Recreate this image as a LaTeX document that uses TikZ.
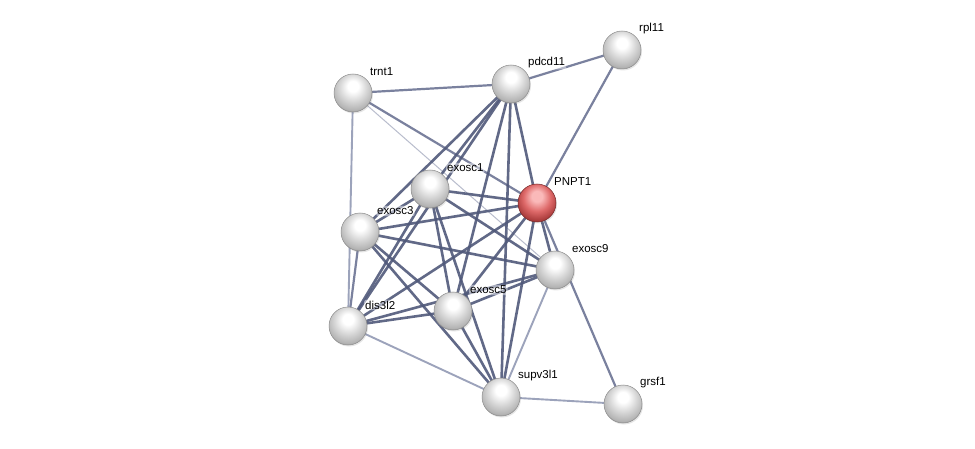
\documentclass[tikz,border=0pt]{standalone}
\usepackage{fontspec}
\setmainfont{Liberation Sans}
\usetikzlibrary{shadows}
\definecolor{edark}{RGB}{80,89,122}
\definecolor{emed}{RGB}{108,116,148}
\definecolor{elight}{RGB}{146,153,180}
\definecolor{evlight}{RGB}{185,189,205}
\definecolor{rhi}{RGB}{250,185,185}
\definecolor{rmid}{RGB}{222,105,105}
\definecolor{redge}{RGB}{170,60,60}
\pgfdeclareradialshading{grayball}{\pgfpoint{0bp}{10bp}}{color(0bp)=(white); color(7bp)=(white); color(18bp)=(black!16); color(28bp)=(black!30); color(34bp)=(black!50); color(60bp)=(black!50)}
\pgfdeclareradialshading{redball}{\pgfpoint{0bp}{10bp}}{color(0bp)=(rhi); color(7bp)=(rhi); color(18bp)=(rmid); color(28bp)=(redge); color(34bp)=(redge!80!black); color(60bp)=(redge!80!black)}
\pgfdeclarelayer{bg}
\pgfsetlayers{bg,main}
\tikzset{
  prot/.style={circle, minimum size=38pt, inner sep=0pt, shading=grayball, draw=black!45, line width=0.5pt,
     drop shadow={shadow xshift=1pt, shadow yshift=-1.5pt, opacity=0.2}},
  protred/.style={prot, shading=redball, draw=redge!70!black},
  lbl/.style={anchor=west, font=\fontsize{11.5}{13}\selectfont, inner sep=1pt, fill=white, fill opacity=0.45, text opacity=1, rounded corners=2pt},
  e1/.style={draw=edark, line width=2.6pt, opacity=0.9},
  e2/.style={draw=emed, line width=2.2pt, opacity=0.9},
  e3/.style={draw=elight, line width=1.9pt, opacity=0.9},
  e4/.style={draw=evlight, line width=1pt},
}
\begin{document}
\begin{tikzpicture}[x=1pt,y=-1pt]
\useasboundingbox (0,0) rectangle (975,449);
% nodes
\node[prot] (rpl11) at (622,50) {};
\node[prot] (pdcd11) at (511,84) {};
\node[prot] (trnt1) at (353,93) {};
\node[prot] (exosc1) at (430,189) {};
\node[protred] (pnpt1) at (537,203) {};
\node[prot] (exosc3) at (360,232) {};
\node[prot] (exosc9) at (555,270) {};
\node[prot] (exosc5) at (453,311) {};
\node[prot] (dis3l2) at (348,326) {};
\node[prot] (supv3l1) at (501,397) {};
\node[prot] (grsf1) at (623,404) {};
% labels
\path (rpl11) ++(16,-21) node[lbl] (lrpl11) {rpl11};
\path (pdcd11) ++(16,-21) node[lbl] (lpdcd11) {pdcd11};
\path (trnt1) ++(16,-21) node[lbl] (ltrnt1) {trnt1};
\path (exosc1) ++(16,-21) node[lbl] (lexosc1) {exosc1};
\path (pnpt1) ++(16,-21) node[lbl] (lpnpt1) {PNPT1};
\path (exosc3) ++(16,-21) node[lbl] (lexosc3) {exosc3};
\path (exosc9) ++(16,-21) node[lbl] (lexosc9) {exosc9};
\path (exosc5) ++(16,-21) node[lbl] (lexosc5) {exosc5};
\path (dis3l2) ++(16,-21) node[lbl] (ldis3l2) {dis3l2};
\path (supv3l1) ++(16,-21) node[lbl] (lsupv3l1) {supv3l1};
\path (grsf1) ++(16,-21) node[lbl] (lgrsf1) {grsf1};
% edges
\begin{pgfonlayer}{bg}
\fill[white] (0,0) rectangle (975,449);
\draw[e4] (trnt1.center) -- (exosc9.center);
\draw[e3] (trnt1.center) -- (dis3l2.center);
\draw[e3] (supv3l1.center) -- (grsf1.center);
\draw[e3] (dis3l2.center) -- (supv3l1.center);
\draw[e3] (exosc9.center) -- (supv3l1.center);
\draw[e2] (trnt1.center) -- (pdcd11.center);
\draw[e2] (trnt1.center) -- (pnpt1.center);
\draw[e2] (rpl11.center) -- (pnpt1.center);
\draw[e2] (pnpt1.center) -- (grsf1.center);
\draw[e2] (exosc3.center) -- (dis3l2.center);
\draw[e2] (pdcd11.center) -- (rpl11.center);
\draw[e1] (pdcd11.center) -- (pnpt1.center);
\draw[e1] (pdcd11.center) -- (exosc1.center);
\draw[e1] (pdcd11.center) -- (exosc3.center);
\draw[e1] (pdcd11.center) -- (exosc5.center);
\draw[e1] (pdcd11.center) -- (dis3l2.center);
\draw[e1] (pdcd11.center) -- (supv3l1.center);
\draw[e1] (exosc1.center) -- (exosc3.center);
\draw[e1] (exosc1.center) -- (exosc5.center);
\draw[e1] (exosc1.center) -- (exosc9.center);
\draw[e1] (exosc1.center) -- (pnpt1.center);
\draw[e1] (exosc1.center) -- (dis3l2.center);
\draw[e1] (exosc1.center) -- (supv3l1.center);
\draw[e1] (exosc3.center) -- (exosc5.center);
\draw[e1] (exosc3.center) -- (exosc9.center);
\draw[e1] (exosc3.center) -- (pnpt1.center);
\draw[e1] (exosc3.center) -- (supv3l1.center);
\draw[e1] (exosc5.center) -- (exosc9.center);
\draw[e1] (exosc5.center) -- (pnpt1.center);
\draw[e1] (exosc5.center) -- (dis3l2.center);
\draw[e1] (exosc5.center) -- (supv3l1.center);
\draw[e1] (exosc9.center) -- (pnpt1.center);
\draw[e1] (exosc9.center) -- (dis3l2.center);
\draw[e1] (dis3l2.center) -- (pnpt1.center);
\draw[e1] (supv3l1.center) -- (pnpt1.center);
\end{pgfonlayer}
\end{tikzpicture}
\end{document}
